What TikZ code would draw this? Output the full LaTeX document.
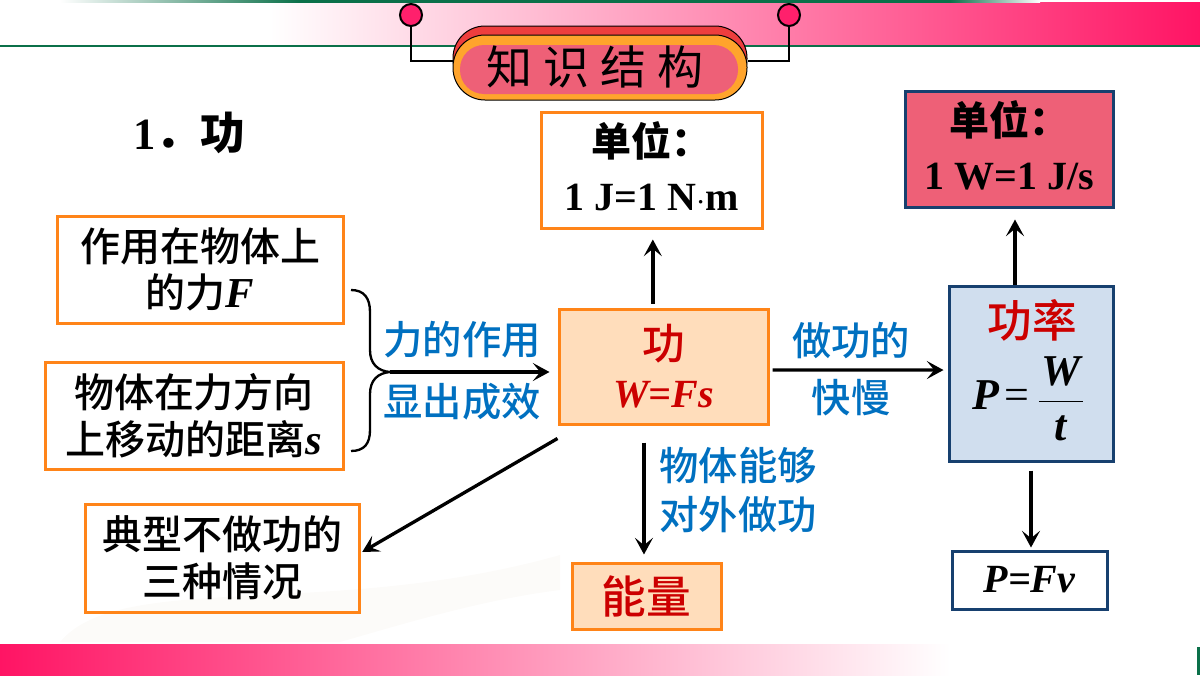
\documentclass[tikz,border=0pt]{standalone}
\usepackage{amsmath}
\usepackage{fontspec}
\setmainfont{Liberation Serif}
\newfontfamily\cjk{Noto Sans CJK SC Medium}
\newfontfamily\cjkheavy{Noto Sans CJK SC}
\usetikzlibrary{arrows.meta}
\definecolor{boxorange}{HTML}{FF8418}
\definecolor{boxnavy}{HTML}{17406F}
\definecolor{bandpink}{HTML}{FF1464}
\definecolor{bandgreen}{HTML}{0B7049}
\definecolor{pillred}{HTML}{EE3E3E}
\definecolor{pillorange}{HTML}{FFA42C}
\definecolor{pillpink}{HTML}{EE6077}
\definecolor{workfill}{HTML}{FFDDBB}
\definecolor{powerfill}{HTML}{D0DEEE}
\definecolor{labelblue}{HTML}{0070C0}
\definecolor{labelred}{HTML}{CC0000}
\definecolor{sweep}{HTML}{FCFBF9}
\tikzstyle{orangebox}=[rectangle,draw=boxorange,line width=2.25pt,inner sep=0pt,align=center,font=\fontsize{30}{35}\selectfont\cjk]
\tikzstyle{navybox}=[rectangle,draw=boxnavy,line width=2.25pt,inner sep=0pt,align=center]
\tikzstyle{edge}=[draw,line width=2.5pt,->,>={Stealth[length=12.5pt,width=13.5pt,inset=5.5pt]}]
\tikzstyle{weight}=[font=\fontsize{29.5}{35}\selectfont\cjk,text=labelblue,inner sep=0pt]
\tikzstyle{pill}=[rectangle,draw=black,line width=0.75pt,inner sep=0pt]
\tikzstyle{pin}=[circle,draw=black,line width=1.5pt,fill=bandpink!95!white,minimum size=16.5pt,inner sep=0pt]
\newcommand{\bi}[1]{{\bfseries\itshape #1}}
\begin{document}
\begin{tikzpicture}[x=0.75pt,y=-0.75pt]
    \useasboundingbox (0,0) rectangle (1200,675);

    % bands and the faint sweep behind the picture
    \fill[sweep] (60,642) .. controls (120,570) and (330,620) .. (560,555) -- (560,590) .. controls (480,600) and (400,625) .. (340,642) -- cycle;
    \shade[left color=white,right color=bandpink] (270,2) rectangle (1200,45);
    \shade[left color=white,right color=bandgreen] (60,0) rectangle (300,2);
    \fill[bandgreen] (300,0) rectangle (950,3);
    \shade[left color=bandgreen,right color=white] (950,0) rectangle (1040,2);
    \fill[bandgreen] (0,45) rectangle (1200,47);
    \shade[left color=bandpink,right color=white] (0,644) rectangle (950,675);
    \fill[bandgreen] (1197,647) rectangle (1200,675);

    % title
    \node[pin] (pinleft) at (411,15) {};
    \node[pin] (pinright) at (789,15) {};
    \node[pill,fill=pillred,minimum width=220.5pt,minimum height=48.75pt,rounded corners=24pt] (titleback) at (600,58.5) {};
    \node[pill,fill=pillorange,minimum width=220.5pt,minimum height=48.75pt,rounded corners=24pt] (titlebody) at (600,67.5) {};
    \node[rectangle,fill=pillpink,inner sep=0pt,minimum width=208.5pt,minimum height=36.75pt,rounded corners=18pt] (titlepink) at (599,69.5) {};
    \node[inner sep=0pt,font=\fontsize{34.5}{40}\selectfont\cjkheavy] (titletext) at (595,67) {知\hspace{8.5pt}识\hspace{8.5pt}结\hspace{8.5pt}构};
    \draw[line width=1.5pt] (pinleft) |- ([yshift=4.9pt]titlebody.west);
    \draw[line width=1.5pt] (pinright) |- ([yshift=4.9pt]titlebody.east);

    \node[inner sep=0pt,font=\fontsize{33.5}{38}\selectfont\bfseries] (heading) at (189,133) {1{\cjkheavy\bfseries ．功}};

    % white boxes with the orange border
    \foreach \x/\y/\w/\h/\name/\txt in {
        200/269.5/214.5/80.25/force/{作用在物体上\\的力{\normalfont\fontsize{32}{35}\selectfont\bi{F}}},
        194/415.5/223.5/80.25/dist/{物体在力方向\\上移动的距离{\normalfont\fontsize{32}{35}\selectfont\bi{s}}},
        222/558/205.5/81/none/{典型不做功的\\三种情况}}
        \node[orangebox,minimum width=\w pt,minimum height=\h pt] (\name) at (\x,\y) {\txt};

    \node[orangebox,minimum width=165.75pt,minimum height=87pt,font=\fontsize{30}{42}\selectfont\bfseries] (unitj) at (651.5,170) {{\cjkheavy\bfseries 单位：}\\[-1.5pt]1 J=1 N$\cdot$m\rule[-6pt]{0pt}{1pt}};
    \node[orangebox,fill=workfill,minimum width=156.75pt,minimum height=86.25pt,font=\fontsize{30}{37}\selectfont\bi{}] (work) at (663.5,366.5) {{\fontsize{32}{37}\selectfont\cjk\textcolor{labelred}{功}}\\[-1pt]\textcolor{labelred}{\bi{W=Fs}}};
    \node[orangebox,fill=workfill,minimum width=111.75pt,minimum height=49.5pt,text=labelred,font=\fontsize{33.5}{40}\selectfont\cjk] (energy) at (646.5,596) {能量};

    % navy boxes
    \node[navybox,fill=pillpink,minimum width=156pt,minimum height=87pt,font=\fontsize{30}{42}\selectfont\bfseries] (unitw) at (1009,149) {{\cjkheavy\bfseries 单位：}\\[-1.5pt]1 W=1 J/s\rule[-6pt]{0pt}{1pt}};
    \node[navybox,fill=powerfill,minimum width=123pt,minimum height=131.25pt] (power) at (1031,373.5) {};
    \node[inner sep=0pt,font=\fontsize{33.5}{40}\selectfont\cjk,text=labelred] (powername) at (1032,320) {功率};
    \node[inner sep=0pt,font=\fontsize{33}{40}\selectfont] (powerlaw) at (1028.5,399) {$\text{\bi{P}}\kern4pt\text{=}\kern6pt\dfrac{\kern2pt\text{\bi{W}}\kern2pt\rule[-8pt]{0pt}{8pt}}{\rule{0pt}{26pt}\text{\bi{t}}}$};
    \node[navybox,minimum width=116.25pt,minimum height=43.5pt,font=\fontsize{30}{36}\selectfont] (pfv) at (1029.5,580) {\bi{P=Fv}};

    % labels on the connectors
    \foreach \x/\y/\name/\txt in {
        462/340/lblact/力的作用, 462/402/lblshow/显出成效,
        851/341/lblfast/做功的, 851/398/lblslow/快慢,
        738/466/lblable/物体能够, 738/515/lblout/对外做功}
        \node[weight] (\name) at (\x,\y) {\txt};

    % brace
    \coordinate (bracetip) at (390,372);
    \draw[line width=1.75pt] (351,290) .. controls (364,290) and (370,298) .. (370,312) -- (370,350) .. controls (370,364) and (378,371) .. (bracetip) .. controls (378,373) and (370,380) .. (370,394) -- (370,430) .. controls (370,444) and (364,451) .. (351,451);

    % connectors
    \draw[edge,shorten >=6pt] (bracetip) -- (bracetip -| work.west);
    \draw[edge,shorten <=3pt,shorten >=7.5pt] ([xshift=1pt]work.north -| unitj.south) -- ([xshift=1pt]unitj.south);
    \draw[edge,shorten >=8.25pt] ([xshift=-12pt]power.north) -- ([xshift=-12pt]power.north |- unitw.south);
    \draw[edge,shorten <=2.25pt,shorten >=3pt] ([yshift=-2.6pt]work.east) -- ([yshift=2.6pt]power.west);
    \draw[edge,shorten <=6pt,shorten >=1.5pt] (power.south) -- (power.south |- pfv.north);
    \draw[edge,shorten <=12.75pt,shorten >=5.25pt] ([xshift=-1.9pt]work.south -| energy.north) -- ([xshift=-1.9pt]energy.north);
    \draw[edge,shorten >=1.5pt] ([yshift=-9.75pt]work.south west) -- ([yshift=3.75pt]none.east);
\end{tikzpicture}
\end{document}
